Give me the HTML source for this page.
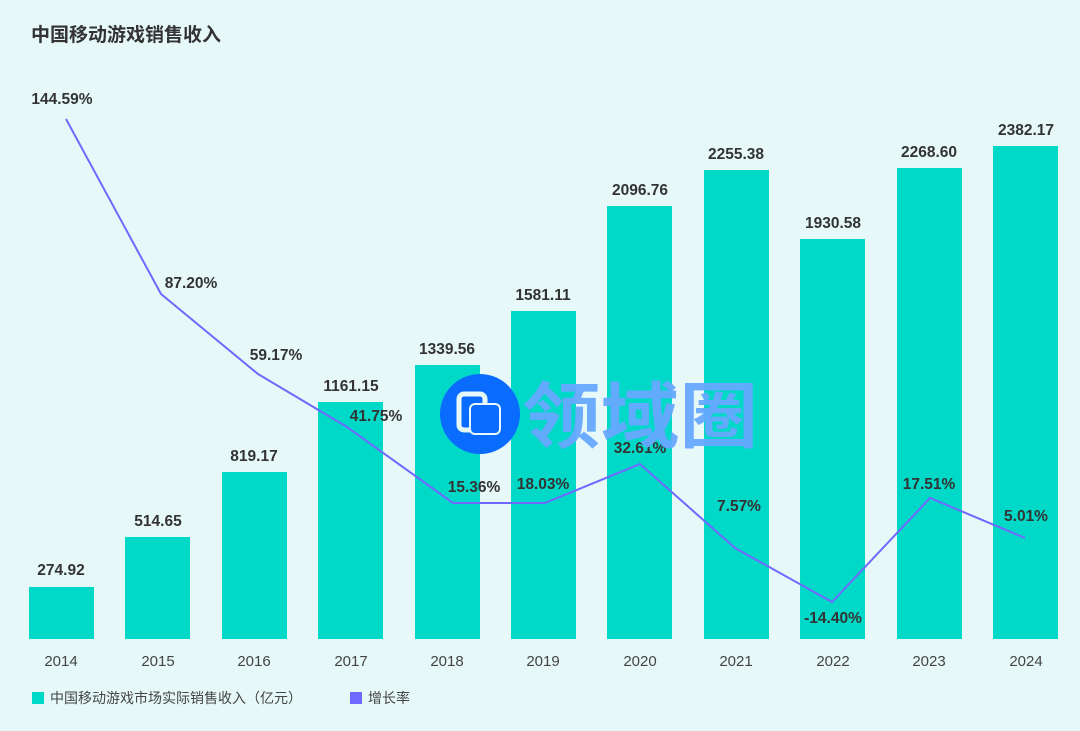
<!DOCTYPE html>
<html><head><meta charset="utf-8"><style>
html,body{margin:0;padding:0}
body{width:1080px;height:731px;background:#e6f9f8;position:relative;overflow:hidden;font-family:"Liberation Sans","Noto Sans CJK SC",sans-serif}
</style></head><body>
<svg width="1080" height="731" xmlns="http://www.w3.org/2000/svg" style="position:absolute;left:0;top:0;font-family:'Liberation Sans','Noto Sans CJK SC',sans-serif">
<text x="31" y="41" font-size="19" font-weight="bold" fill="#333">中国移动游戏销售收入</text>
<g fill="#00d9c8">
<rect x="29" y="587" width="65" height="52"/>
<rect x="125" y="537" width="65" height="102"/>
<rect x="222" y="472" width="65" height="167"/>
<rect x="318" y="402" width="65" height="237"/>
<rect x="415" y="365" width="65" height="274"/>
<rect x="511" y="311" width="65" height="328"/>
<rect x="607" y="206" width="65" height="433"/>
<rect x="704" y="170" width="65" height="469"/>
<rect x="800" y="239" width="65" height="400"/>
<rect x="897" y="168" width="65" height="471"/>
<rect x="993" y="146" width="65" height="493"/>
</g>
<g font-size="15.5" font-weight="bold" fill="#333" text-anchor="middle">
<text x="61" y="575">274.92</text>
<text x="158" y="526">514.65</text>
<text x="254" y="461">819.17</text>
<text x="351" y="391">1161.15</text>
<text x="447" y="354">1339.56</text>
<text x="543" y="300">1581.11</text>
<text x="640" y="195">2096.76</text>
<text x="736" y="159">2255.38</text>
<text x="833" y="228">1930.58</text>
<text x="929" y="157">2268.60</text>
<text x="1026" y="135">2382.17</text>
</g>
<polyline fill="none" stroke="#7068ff" stroke-width="2" points="66,119 161,294 258,374 347,427 453,503 545,503 640,464 735,548 832,602 930,498 1025,538"/>
<g font-size="15.5" font-weight="bold" fill="#333" text-anchor="middle">
<text x="62" y="104">144.59%</text>
<text x="191" y="288">87.20%</text>
<text x="276" y="360">59.17%</text>
<text x="376" y="421">41.75%</text>
<text x="474" y="492">15.36%</text>
<text x="543" y="489">18.03%</text>
<text x="640" y="453">32.61%</text>
<text x="739" y="511">7.57%</text>
<text x="833" y="623">-14.40%</text>
<text x="929" y="489">17.51%</text>
<text x="1026" y="521">5.01%</text>
</g>
<g font-size="15" fill="#444" text-anchor="middle">
<text x="61" y="666">2014</text><text x="158" y="666">2015</text><text x="254" y="666">2016</text><text x="351" y="666">2017</text><text x="447" y="666">2018</text><text x="543" y="666">2019</text><text x="640" y="666">2020</text><text x="736" y="666">2021</text><text x="833" y="666">2022</text><text x="929" y="666">2023</text><text x="1026" y="666">2024</text>
</g>
<rect x="32" y="692" width="12" height="12" fill="#00d9c8"/>
<text x="50" y="703" font-size="14" fill="#444">中国移动游戏市场实际销售收入（亿元）</text>
<rect x="350" y="692" width="12" height="12" fill="#7068ff"/>
<text x="368" y="703" font-size="14" fill="#444">增长率</text>
<circle cx="480" cy="414" r="40" fill="#0a6cff"/>
<rect x="459" y="394" width="26" height="36" rx="5" fill="none" stroke="#e6f9f8" stroke-width="5"/>
<rect x="470" y="404" width="30" height="30" rx="5" fill="#0a6cff" stroke="#e6f9f8" stroke-width="2"/>
<text x="522" y="442" font-size="72" font-weight="bold" fill="#66a8ff" fill-opacity="0.95" textLength="236" lengthAdjust="spacingAndGlyphs">领域圈</text>
</svg>
</body></html>
